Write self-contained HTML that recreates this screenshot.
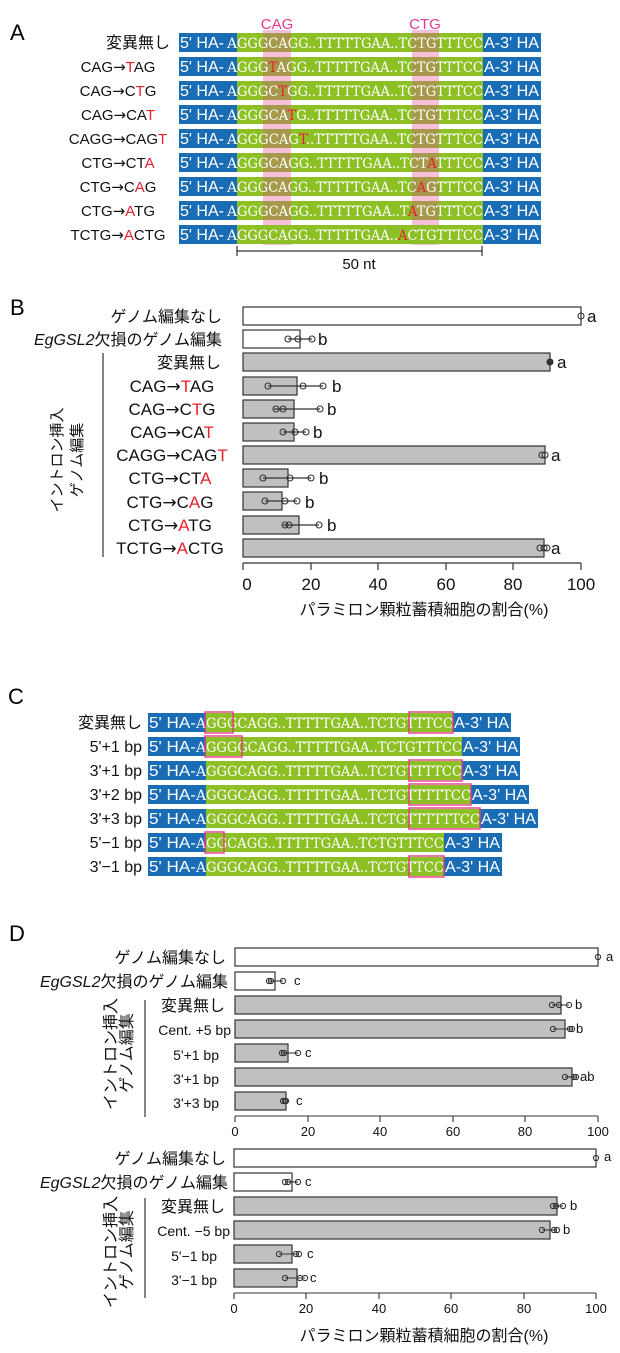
<!DOCTYPE html>
<html><head><meta charset="utf-8"><style>
html,body{margin:0;padding:0;background:#fff}
svg{display:block}
.s{font-family:"Liberation Sans","Noto Sans CJK JP",sans-serif}
.j{font-family:"Liberation Sans","Noto Sans CJK JP",sans-serif}
.q{font-family:"DejaVu Serif","Liberation Serif",serif;fill:#fff;font-size:14px}
.w{fill:#fff;font-family:"Liberation Sans",sans-serif;font-size:16px}
.r{fill:#e8202a}
.ar{font-family:"DejaVu Sans",sans-serif}
.b{fill:#1a6cb4}.g{fill:#8cc024}.o{fill:#a7994b}
.bar{fill:#c0c0c0;stroke:#333;stroke-width:1.2}
.wb{fill:#fff;stroke:#333;stroke-width:1.2}
.pt{fill:none;stroke:#333;stroke-width:1.1}
.pk{fill:none;stroke:#e6398f;stroke-width:1.4}
</style></head><body>
<svg width="620" height="1353" viewBox="0 0 620 1353" xmlns="http://www.w3.org/2000/svg">
<g class="s" font-size="22"><text x="10" y="40">A</text><text x="10" y="315">B</text><text x="8" y="704">C</text><text x="9" y="941">D</text></g>

<!-- Panel A -->
<rect x="263" y="30" width="28" height="215" fill="#f5c0da"/>
<rect x="412" y="30" width="27" height="215" fill="#f5c0da"/>
<text class="s" x="277" y="29" font-size="15" fill="#e6398f" text-anchor="middle">CAG</text>
<text class="s" x="425" y="29" font-size="15" fill="#e6398f" text-anchor="middle">CTG</text>
<g transform="translate(0,33)"><rect x="179" width="362" height="19" class="b"/><rect x="237" width="246" height="19" class="g"/><rect x="263" width="28" height="19" class="o"/><rect x="412" width="27" height="19" class="o"/><text class="w" x="180" y="15" textLength="44" lengthAdjust="spacingAndGlyphs">5' HA-</text><text class="q" x="227" y="15">A</text><text class="q" x="237" y="15" textLength="246" lengthAdjust="spacingAndGlyphs">GGGCAGG..TTTTTGAA..TCTGTTTCC</text><text class="w" x="484" y="15" textLength="55" lengthAdjust="spacingAndGlyphs">A-3' HA</text></g>
<g transform="translate(0,57)"><rect x="179" width="362" height="19" class="b"/><rect x="237" width="246" height="19" class="g"/><rect x="263" width="28" height="19" class="o"/><rect x="412" width="27" height="19" class="o"/><text class="w" x="180" y="15" textLength="44" lengthAdjust="spacingAndGlyphs">5' HA-</text><text class="q" x="227" y="15">A</text><text class="q" x="237" y="15" textLength="246" lengthAdjust="spacingAndGlyphs">GGG<tspan class="r">T</tspan>AGG..TTTTTGAA..TCTGTTTCC</text><text class="w" x="484" y="15" textLength="55" lengthAdjust="spacingAndGlyphs">A-3' HA</text></g>
<g transform="translate(0,81)"><rect x="179" width="362" height="19" class="b"/><rect x="237" width="246" height="19" class="g"/><rect x="263" width="28" height="19" class="o"/><rect x="412" width="27" height="19" class="o"/><text class="w" x="180" y="15" textLength="44" lengthAdjust="spacingAndGlyphs">5' HA-</text><text class="q" x="227" y="15">A</text><text class="q" x="237" y="15" textLength="246" lengthAdjust="spacingAndGlyphs">GGGC<tspan class="r">T</tspan>GG..TTTTTGAA..TCTGTTTCC</text><text class="w" x="484" y="15" textLength="55" lengthAdjust="spacingAndGlyphs">A-3' HA</text></g>
<g transform="translate(0,105)"><rect x="179" width="362" height="19" class="b"/><rect x="237" width="246" height="19" class="g"/><rect x="263" width="28" height="19" class="o"/><rect x="412" width="27" height="19" class="o"/><text class="w" x="180" y="15" textLength="44" lengthAdjust="spacingAndGlyphs">5' HA-</text><text class="q" x="227" y="15">A</text><text class="q" x="237" y="15" textLength="246" lengthAdjust="spacingAndGlyphs">GGGCA<tspan class="r">T</tspan>G..TTTTTGAA..TCTGTTTCC</text><text class="w" x="484" y="15" textLength="55" lengthAdjust="spacingAndGlyphs">A-3' HA</text></g>
<g transform="translate(0,129)"><rect x="179" width="362" height="19" class="b"/><rect x="237" width="246" height="19" class="g"/><rect x="263" width="28" height="19" class="o"/><rect x="412" width="27" height="19" class="o"/><text class="w" x="180" y="15" textLength="44" lengthAdjust="spacingAndGlyphs">5' HA-</text><text class="q" x="227" y="15">A</text><text class="q" x="237" y="15" textLength="246" lengthAdjust="spacingAndGlyphs">GGGCAG<tspan class="r">T</tspan>..TTTTTGAA..TCTGTTTCC</text><text class="w" x="484" y="15" textLength="55" lengthAdjust="spacingAndGlyphs">A-3' HA</text></g>
<g transform="translate(0,153)"><rect x="179" width="362" height="19" class="b"/><rect x="237" width="246" height="19" class="g"/><rect x="263" width="28" height="19" class="o"/><rect x="412" width="27" height="19" class="o"/><text class="w" x="180" y="15" textLength="44" lengthAdjust="spacingAndGlyphs">5' HA-</text><text class="q" x="227" y="15">A</text><text class="q" x="237" y="15" textLength="246" lengthAdjust="spacingAndGlyphs">GGGCAGG..TTTTTGAA..TCT<tspan class="r">A</tspan>TTTCC</text><text class="w" x="484" y="15" textLength="55" lengthAdjust="spacingAndGlyphs">A-3' HA</text></g>
<g transform="translate(0,177)"><rect x="179" width="362" height="19" class="b"/><rect x="237" width="246" height="19" class="g"/><rect x="263" width="28" height="19" class="o"/><rect x="412" width="27" height="19" class="o"/><text class="w" x="180" y="15" textLength="44" lengthAdjust="spacingAndGlyphs">5' HA-</text><text class="q" x="227" y="15">A</text><text class="q" x="237" y="15" textLength="246" lengthAdjust="spacingAndGlyphs">GGGCAGG..TTTTTGAA..TC<tspan class="r">A</tspan>GTTTCC</text><text class="w" x="484" y="15" textLength="55" lengthAdjust="spacingAndGlyphs">A-3' HA</text></g>
<g transform="translate(0,201)"><rect x="179" width="362" height="19" class="b"/><rect x="237" width="246" height="19" class="g"/><rect x="263" width="28" height="19" class="o"/><rect x="412" width="27" height="19" class="o"/><text class="w" x="180" y="15" textLength="44" lengthAdjust="spacingAndGlyphs">5' HA-</text><text class="q" x="227" y="15">A</text><text class="q" x="237" y="15" textLength="246" lengthAdjust="spacingAndGlyphs">GGGCAGG..TTTTTGAA..T<tspan class="r">A</tspan>TGTTTCC</text><text class="w" x="484" y="15" textLength="55" lengthAdjust="spacingAndGlyphs">A-3' HA</text></g>
<g transform="translate(0,225)"><rect x="179" width="362" height="19" class="b"/><rect x="237" width="246" height="19" class="g"/><text class="w" x="180" y="15" textLength="44" lengthAdjust="spacingAndGlyphs">5' HA-</text><text class="q" x="227" y="15">A</text><text class="q" x="237" y="15" textLength="246" lengthAdjust="spacingAndGlyphs">GGGCAGG..TTTTTGAA..<tspan class="r">A</tspan>CTGTTTCC</text><text class="w" x="484" y="15" textLength="55" lengthAdjust="spacingAndGlyphs">A-3' HA</text></g>
<g class="s" font-size="15" fill="#111" text-anchor="middle">
<text x="170" y="48" text-anchor="end" font-size="16">変異無し</text>
<text x="118" y="72">CAG<tspan class="ar">→</tspan><tspan class="r">T</tspan>AG</text>
<text x="118" y="96">CAG<tspan class="ar">→</tspan>C<tspan class="r">T</tspan>G</text>
<text x="118" y="120">CAG<tspan class="ar">→</tspan>CA<tspan class="r">T</tspan></text>
<text x="118" y="144">CAGG<tspan class="ar">→</tspan>CAG<tspan class="r">T</tspan></text>
<text x="118" y="168">CTG<tspan class="ar">→</tspan>CT<tspan class="r">A</tspan></text>
<text x="118" y="192">CTG<tspan class="ar">→</tspan>C<tspan class="r">A</tspan>G</text>
<text x="118" y="216">CTG<tspan class="ar">→</tspan><tspan class="r">A</tspan>TG</text>
<text x="118" y="240">TCTG<tspan class="ar">→</tspan><tspan class="r">A</tspan>CTG</text>
<text x="359" y="269">50 nt</text>
</g>
<g stroke="#333" stroke-width="1.2"><line x1="237" y1="251" x2="482" y2="251"/><line x1="237" y1="246" x2="237" y2="256"/><line x1="482" y1="246" x2="482" y2="256"/></g>

<!-- Panel B -->
<g class="j" font-size="16" fill="#111" text-anchor="end">
<text x="222" y="322">ゲノム編集なし</text>
<text x="222" y="345"><tspan font-style="italic">EgGSL2</tspan>欠損のゲノム編集</text>
<text x="221" y="368">変異無し</text>
</g>
<g class="s" font-size="17" fill="#111" text-anchor="middle">
<text x="172" y="392">CAG<tspan class="ar">→</tspan><tspan class="r">T</tspan>AG</text>
<text x="172" y="415">CAG<tspan class="ar">→</tspan>C<tspan class="r">T</tspan>G</text>
<text x="172" y="438">CAG<tspan class="ar">→</tspan>CA<tspan class="r">T</tspan></text>
<text x="172" y="461">CAGG<tspan class="ar">→</tspan>CAG<tspan class="r">T</tspan></text>
<text x="170" y="484">CTG<tspan class="ar">→</tspan>CT<tspan class="r">A</tspan></text>
<text x="170" y="508">CTG<tspan class="ar">→</tspan>C<tspan class="r">A</tspan>G</text>
<text x="170" y="531">CTG<tspan class="ar">→</tspan><tspan class="r">A</tspan>TG</text>
<text x="170" y="554">TCTG<tspan class="ar">→</tspan><tspan class="r">A</tspan>CTG</text>
</g>
<line x1="103" y1="353" x2="103" y2="557" stroke="#333" stroke-width="1.2"/>
<g class="j" font-size="15" fill="#111" text-anchor="middle">
<text transform="translate(62,460) rotate(-90)">イントロン挿入</text>
<text transform="translate(82,460) rotate(-90)">ゲノム編集</text>
</g>
<rect x="243" y="307" width="338" height="18" class="wb"/>
<rect x="243" y="330" width="57" height="18" class="wb"/>
<rect x="243" y="353" width="307" height="18" class="bar"/>
<rect x="243" y="377" width="54" height="18" class="bar"/>
<rect x="243" y="400" width="51" height="18" class="bar"/>
<rect x="243" y="423" width="51" height="18" class="bar"/>
<rect x="243" y="446" width="302" height="18" class="bar"/>
<rect x="243" y="469" width="45" height="18" class="bar"/>
<rect x="243" y="492" width="39" height="18" class="bar"/>
<rect x="243" y="516" width="56" height="18" class="bar"/>
<rect x="243" y="539" width="301" height="18" class="bar"/>
<g stroke="#333" stroke-width="1.2">
<line x1="288" y1="339" x2="312" y2="339"/><line x1="268" y1="386" x2="323" y2="386"/><line x1="274" y1="409" x2="320" y2="409"/><line x1="283" y1="432" x2="306" y2="432"/><line x1="263" y1="478" x2="311" y2="478"/><line x1="265" y1="501" x2="297" y2="501"/><line x1="283" y1="525" x2="319" y2="525"/>
</g>
<g class="pt">
<circle cx="581" cy="316" r="3"/>
<circle cx="288" cy="339" r="3"/><circle cx="298" cy="339" r="3"/><circle cx="312" cy="339" r="3"/>
<circle cx="550" cy="362" r="3" fill="#333"/>
<circle cx="268" cy="386" r="3"/><circle cx="303" cy="386" r="3"/><circle cx="323" cy="386" r="3"/>
<circle cx="276" cy="409" r="3"/><circle cx="283" cy="409" r="3"/><circle cx="320" cy="409" r="3"/>
<circle cx="283" cy="432" r="3"/><circle cx="295" cy="432" r="3"/><circle cx="306" cy="432" r="3"/>
<circle cx="542" cy="455" r="3"/><circle cx="545" cy="455" r="3"/>
<circle cx="263" cy="478" r="3"/><circle cx="290" cy="478" r="3"/><circle cx="311" cy="478" r="3"/>
<circle cx="265" cy="501" r="3"/><circle cx="285" cy="501" r="3"/><circle cx="297" cy="501" r="3"/>
<circle cx="285" cy="525" r="3"/><circle cx="289" cy="525" r="3"/><circle cx="319" cy="525" r="3"/>
<circle cx="540" cy="548" r="3"/><circle cx="544" cy="548" r="3"/><circle cx="547" cy="548" r="3"/>
</g>
<g class="s" font-size="17" fill="#111">
<text x="587" y="322">a</text><text x="318" y="345">b</text><text x="557" y="368">a</text><text x="332" y="392">b</text><text x="327" y="415">b</text><text x="313" y="438">b</text><text x="551" y="461">a</text><text x="319" y="484">b</text><text x="305" y="508">b</text><text x="327" y="531">b</text><text x="551" y="554">a</text>
</g>
<g stroke="#333" stroke-width="1.2"><line x1="243" y1="563" x2="581" y2="563"/>
<line x1="243" y1="563" x2="243" y2="570"/><line x1="311" y1="563" x2="311" y2="570"/><line x1="378" y1="563" x2="378" y2="570"/><line x1="446" y1="563" x2="446" y2="570"/><line x1="513" y1="563" x2="513" y2="570"/><line x1="581" y1="563" x2="581" y2="570"/></g>
<g class="s" font-size="17" fill="#111" text-anchor="middle">
<text x="247" y="590">0</text><text x="311" y="590">20</text><text x="378" y="590">40</text><text x="446" y="590">60</text><text x="513" y="590">80</text><text x="581" y="590">100</text>
<text x="424" y="615" font-size="16">パラミロン顆粒蓄積細胞の割合(%)</text>
</g>

<!-- Panel C -->
<g class="j" font-size="16" fill="#111" text-anchor="end">
<text x="142" y="728">変異無し</text>
<text x="142" y="752">5'+1 bp</text>
<text x="142" y="776">3'+1 bp</text>
<text x="142" y="800">3'+2 bp</text>
<text x="142" y="824">3'+3 bp</text>
<text x="142" y="848">5'−1 bp</text>
<text x="142" y="872">3'−1 bp</text>
</g>
<g transform="translate(0,713)"><rect x="148" width="363" height="19" class="b"/><rect x="206" width="247" height="19" class="g"/><text class="w" x="149" y="15" textLength="47" lengthAdjust="spacingAndGlyphs">5' HA-</text><text class="q" x="196" y="15">A</text><text class="q" x="206" y="15" textLength="247" lengthAdjust="spacingAndGlyphs">GGGCAGG..TTTTTGAA..TCTGTTTCC</text><text class="w" x="454" y="15" textLength="55" lengthAdjust="spacingAndGlyphs">A-3' HA</text><rect x="205" y="-1" width="28" height="21" class="pk"/><rect x="409" y="-1" width="44" height="21" class="pk"/></g>
<g transform="translate(0,737)"><rect x="148" width="372" height="19" class="b"/><rect x="206" width="256" height="19" class="g"/><text class="w" x="149" y="15" textLength="47" lengthAdjust="spacingAndGlyphs">5' HA-</text><text class="q" x="196" y="15">A</text><text class="q" x="206" y="15" textLength="256" lengthAdjust="spacingAndGlyphs">GGGGCAGG..TTTTTGAA..TCTGTTTCC</text><text class="w" x="463" y="15" textLength="55" lengthAdjust="spacingAndGlyphs">A-3' HA</text><rect x="205" y="-1" width="37" height="21" class="pk"/></g>
<g transform="translate(0,761)"><rect x="148" width="372" height="19" class="b"/><rect x="206" width="256" height="19" class="g"/><text class="w" x="149" y="15" textLength="47" lengthAdjust="spacingAndGlyphs">5' HA-</text><text class="q" x="196" y="15">A</text><text class="q" x="206" y="15" textLength="256" lengthAdjust="spacingAndGlyphs">GGGCAGG..TTTTTGAA..TCTGTTTTCC</text><text class="w" x="463" y="15" textLength="55" lengthAdjust="spacingAndGlyphs">A-3' HA</text><rect x="409" y="-1" width="53" height="21" class="pk"/></g>
<g transform="translate(0,785)"><rect x="148" width="381" height="19" class="b"/><rect x="206" width="265" height="19" class="g"/><text class="w" x="149" y="15" textLength="47" lengthAdjust="spacingAndGlyphs">5' HA-</text><text class="q" x="196" y="15">A</text><text class="q" x="206" y="15" textLength="265" lengthAdjust="spacingAndGlyphs">GGGCAGG..TTTTTGAA..TCTGTTTTTCC</text><text class="w" x="472" y="15" textLength="55" lengthAdjust="spacingAndGlyphs">A-3' HA</text><rect x="409" y="-1" width="62" height="21" class="pk"/></g>
<g transform="translate(0,809)"><rect x="148" width="390" height="19" class="b"/><rect x="206" width="274" height="19" class="g"/><text class="w" x="149" y="15" textLength="47" lengthAdjust="spacingAndGlyphs">5' HA-</text><text class="q" x="196" y="15">A</text><text class="q" x="206" y="15" textLength="274" lengthAdjust="spacingAndGlyphs">GGGCAGG..TTTTTGAA..TCTGTTTTTTCC</text><text class="w" x="481" y="15" textLength="55" lengthAdjust="spacingAndGlyphs">A-3' HA</text><rect x="409" y="-1" width="71" height="21" class="pk"/></g>
<g transform="translate(0,833)"><rect x="148" width="354" height="19" class="b"/><rect x="206" width="238" height="19" class="g"/><text class="w" x="149" y="15" textLength="47" lengthAdjust="spacingAndGlyphs">5' HA-</text><text class="q" x="196" y="15">A</text><text class="q" x="206" y="15" textLength="238" lengthAdjust="spacingAndGlyphs">GGCAGG..TTTTTGAA..TCTGTTTCC</text><text class="w" x="445" y="15" textLength="55" lengthAdjust="spacingAndGlyphs">A-3' HA</text><rect x="205" y="-1" width="19" height="21" class="pk"/></g>
<g transform="translate(0,857)"><rect x="148" width="354" height="19" class="b"/><rect x="206" width="238" height="19" class="g"/><text class="w" x="149" y="15" textLength="47" lengthAdjust="spacingAndGlyphs">5' HA-</text><text class="q" x="196" y="15">A</text><text class="q" x="206" y="15" textLength="238" lengthAdjust="spacingAndGlyphs">GGGCAGG..TTTTTGAA..TCTGTTCC</text><text class="w" x="445" y="15" textLength="55" lengthAdjust="spacingAndGlyphs">A-3' HA</text><rect x="409" y="-1" width="35" height="21" class="pk"/></g>

<!-- Panel D upper -->
<g class="j" font-size="16" fill="#111" text-anchor="end">
<text x="226" y="963">ゲノム編集なし</text>
<text x="228" y="987"><tspan font-style="italic">EgGSL2</tspan>欠損のゲノム編集</text>
<text x="225" y="1011">変異無し</text>
<text x="231" y="1035" font-size="14">Cent. +5 bp</text>
<text x="219" y="1060" font-size="14">5'+1 bp</text>
<text x="219" y="1084" font-size="14">3'+1 bp</text>
<text x="219" y="1108" font-size="14">3'+3 bp</text>
</g>
<line x1="145" y1="1000" x2="145" y2="1117" stroke="#333" stroke-width="1.2"/>
<g class="j" font-size="16" fill="#111" text-anchor="middle">
<text transform="translate(116,1054) rotate(-90)">イントロン挿入</text>
<text transform="translate(132,1053) rotate(-90)">ゲノム編集</text>
</g>
<rect x="235" y="948" width="363" height="18" class="wb"/>
<rect x="235" y="972" width="40" height="18" class="wb"/>
<rect x="235" y="996" width="326" height="18" class="bar"/>
<rect x="235" y="1020" width="330" height="18" class="bar"/>
<rect x="235" y="1044" width="53" height="18" class="bar"/>
<rect x="235" y="1068" width="337" height="18" class="bar"/>
<rect x="235" y="1092" width="51" height="18" class="bar"/>
<g stroke="#333" stroke-width="1.1">
<line x1="269" y1="981" x2="283" y2="981"/><line x1="552" y1="1005" x2="569" y2="1005"/><line x1="553" y1="1029" x2="572" y2="1029"/><line x1="282" y1="1053" x2="298" y2="1053"/><line x1="565" y1="1077" x2="576" y2="1077"/>
</g>
<g class="pt">
<circle cx="598" cy="957" r="2.6"/>
<circle cx="269" cy="981" r="2.6"/><circle cx="271" cy="981" r="2.6"/><circle cx="283" cy="981" r="2.6"/>
<circle cx="552" cy="1005" r="2.6"/><circle cx="559" cy="1005" r="2.6"/><circle cx="569" cy="1005" r="2.6"/>
<circle cx="553" cy="1029" r="2.6"/><circle cx="570" cy="1029" r="2.6"/><circle cx="572" cy="1029" r="2.6"/>
<circle cx="282" cy="1053" r="2.6"/><circle cx="284" cy="1053" r="2.6"/><circle cx="298" cy="1053" r="2.6"/>
<circle cx="565" cy="1077" r="2.6"/><circle cx="574" cy="1077" r="2.6"/><circle cx="576" cy="1077" r="2.6"/>
<circle cx="283" cy="1101" r="2.6"/><circle cx="285" cy="1101" r="2.6"/><circle cx="286" cy="1101" r="2.6"/>
</g>
<g class="s" font-size="13" fill="#111">
<text x="606" y="961">a</text><text x="294" y="985">c</text><text x="575" y="1009">b</text><text x="576" y="1033">b</text><text x="305" y="1057">c</text><text x="580" y="1081">ab</text><text x="296" y="1105">c</text>
</g>
<g stroke="#333" stroke-width="1.1"><line x1="235" y1="1116" x2="598" y2="1116"/>
<line x1="235" y1="1116" x2="235" y2="1122"/><line x1="308" y1="1116" x2="308" y2="1122"/><line x1="380" y1="1116" x2="380" y2="1122"/><line x1="453" y1="1116" x2="453" y2="1122"/><line x1="525" y1="1116" x2="525" y2="1122"/><line x1="598" y1="1116" x2="598" y2="1122"/></g>
<g class="s" font-size="13" fill="#111" text-anchor="middle">
<text x="235" y="1136">0</text><text x="308" y="1136">20</text><text x="380" y="1136">40</text><text x="453" y="1136">60</text><text x="525" y="1136">80</text><text x="598" y="1136">100</text>
</g>

<!-- Panel D lower -->
<g class="j" font-size="16" fill="#111" text-anchor="end">
<text x="226" y="1164">ゲノム編集なし</text>
<text x="228" y="1188"><tspan font-style="italic">EgGSL2</tspan>欠損のゲノム編集</text>
<text x="225" y="1212">変異無し</text>
<text x="230" y="1236" font-size="14">Cent. −5 bp</text>
<text x="217" y="1261" font-size="14">5'−1 bp</text>
<text x="217" y="1285" font-size="14">3'−1 bp</text>
</g>
<line x1="145" y1="1198" x2="145" y2="1298" stroke="#333" stroke-width="1.2"/>
<g class="j" font-size="16" fill="#111" text-anchor="middle">
<text transform="translate(116,1252) rotate(-90)">イントロン挿入</text>
<text transform="translate(132,1250) rotate(-90)">ゲノム編集</text>
</g>
<rect x="234" y="1149" width="362" height="18" class="wb"/>
<rect x="234" y="1173" width="58" height="18" class="wb"/>
<rect x="234" y="1197" width="323" height="18" class="bar"/>
<rect x="234" y="1221" width="316" height="18" class="bar"/>
<rect x="234" y="1245" width="58" height="18" class="bar"/>
<rect x="234" y="1269" width="63" height="18" class="bar"/>
<g stroke="#333" stroke-width="1.1">
<line x1="285" y1="1182" x2="298" y2="1182"/><line x1="553" y1="1206" x2="563" y2="1206"/><line x1="542" y1="1230" x2="557" y2="1230"/><line x1="279" y1="1254" x2="299" y2="1254"/><line x1="285" y1="1278" x2="305" y2="1278"/>
</g>
<g class="pt">
<circle cx="596" cy="1158" r="2.6"/>
<circle cx="285" cy="1182" r="2.6"/><circle cx="288" cy="1182" r="2.6"/><circle cx="298" cy="1182" r="2.6"/>
<circle cx="553" cy="1206" r="2.6"/><circle cx="556" cy="1206" r="2.6"/><circle cx="563" cy="1206" r="2.6"/>
<circle cx="542" cy="1230" r="2.6"/><circle cx="554" cy="1230" r="2.6"/><circle cx="557" cy="1230" r="2.6"/>
<circle cx="279" cy="1254" r="2.6"/><circle cx="296" cy="1254" r="2.6"/><circle cx="299" cy="1254" r="2.6"/>
<circle cx="285" cy="1278" r="2.6"/><circle cx="300" cy="1278" r="2.6"/><circle cx="305" cy="1278" r="2.6"/>
</g>
<g class="s" font-size="13" fill="#111">
<text x="604" y="1161">a</text><text x="305" y="1186">c</text><text x="570" y="1210">b</text><text x="563" y="1234">b</text><text x="307" y="1258">c</text><text x="310" y="1282">c</text>
</g>
<g stroke="#333" stroke-width="1.1"><line x1="234" y1="1293" x2="596" y2="1293"/>
<line x1="234" y1="1293" x2="234" y2="1299"/><line x1="306" y1="1293" x2="306" y2="1299"/><line x1="379" y1="1293" x2="379" y2="1299"/><line x1="451" y1="1293" x2="451" y2="1299"/><line x1="524" y1="1293" x2="524" y2="1299"/><line x1="596" y1="1293" x2="596" y2="1299"/></g>
<g class="s" font-size="13" fill="#111" text-anchor="middle">
<text x="234" y="1313">0</text><text x="306" y="1313">20</text><text x="379" y="1313">40</text><text x="451" y="1313">60</text><text x="524" y="1313">80</text><text x="596" y="1313">100</text>
<text x="424" y="1341" font-size="16">パラミロン顆粒蓄積細胞の割合(%)</text>
</g>
</svg>
</body></html>
